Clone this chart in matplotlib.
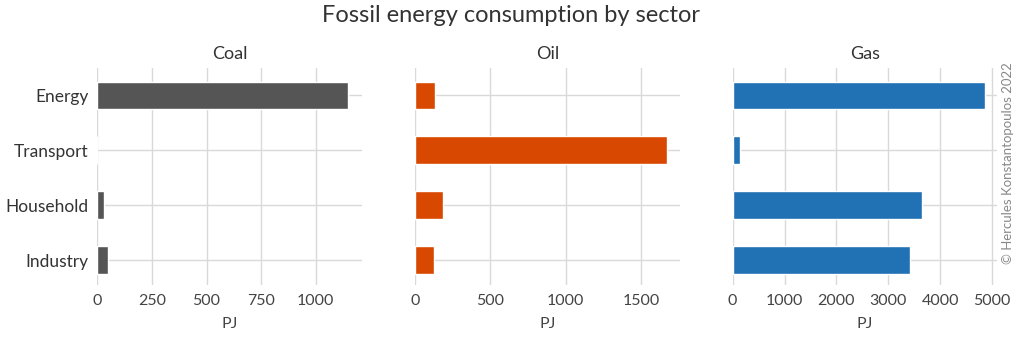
import matplotlib
matplotlib.use('Agg')
import matplotlib.pyplot as plt

plt.rcParams['font.family'] = ['Lato', 'DejaVu Sans']
plt.rcParams['text.color'] = '#333333'
plt.rcParams['xtick.color'] = '#444444'
plt.rcParams['ytick.color'] = '#333333'

sectors = ['Industry', 'Household', 'Transport', 'Energy']
fuels = ['Coal', 'Oil', 'Gas']
coal = [48, 33, 0, 1147]
oil = [124, 186, 1669, 133]
gas = [3425, 3649, 135, 4859]
colors = ['#555555', '#d94801', '#2171b5']
xticks = [[0, 250, 500, 750, 1000], [0, 500, 1000, 1500],
          [0, 1000, 2000, 3000, 4000, 5000]]
xmax = [1211, 1755, 5103]

fig, axes = plt.subplots(1, 3, figsize=(10.23, 3.39), dpi=100, sharey=True)
fig.subplots_adjust(left=0.095, right=0.975, top=0.8, bottom=0.16, wspace=0.2)

for i, (ax, vals) in enumerate(zip(axes, [coal, oil, gas])):
    ax.barh(range(len(sectors)), vals, height=0.5, color=colors[i],
            edgecolor='white', linewidth=1, zorder=3)
    ax.set_axisbelow(True)
    ax.grid(True, color='#d9d9d9', linewidth=1)
    for s in ax.spines.values():
        s.set_visible(False)
    ax.tick_params(axis='x', length=0, labelsize=11.5, pad=7)
    ax.tick_params(axis='y', length=0, labelsize=12.5, pad=6)
    ax.set_xticks(xticks[i])
    ax.set_xlim(0, xmax[i])
    ax.set_ylim(-0.45, 3.5)
    ax.set_yticks(range(len(sectors)))
    ax.set_yticklabels(sectors)
    ax.set_title(fuels[i], fontsize=13, pad=6)
    ax.set_xlabel('PJ', fontsize=11.5, color='#444444', labelpad=6)

fig.suptitle('Fossil energy consumption by sector', fontsize=17, y=0.985)
fig.text(0.985, 0.52, '\u00a9 Hercules Konstantopoulos 2022', rotation=90,
         ha='center', va='center', fontsize=9.5, color='#888888')

plt.savefig('out.png', dpi=100)
